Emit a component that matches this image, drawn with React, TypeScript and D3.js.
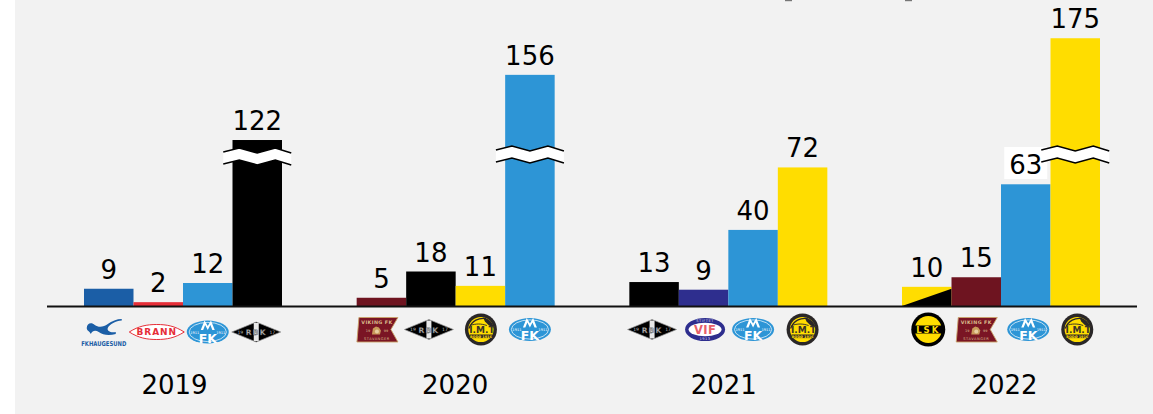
import React from "react";
import * as d3 from "d3";

const years = ["2019", "2020", "2021", "2022"];
const clubs2019 = ["haugesund", "brann", "molde", "rbk"];
const clubs2020 = ["viking", "rbk", "glimt", "molde"];
const clubs2021 = ["rbk", "vif", "molde", "glimt"];
const clubs2022 = ["lsk", "viking", "molde", "glimt"];
const values2019 = [9, 2, 12, 122];
const values2020 = [5, 18, 11, 156];
const values2021 = [13, 9, 40, 72];
const values2022 = [10, 15, 63, 175];
// Heights the broken bars are drawn at, in value units (the axis is cut for these)
const drawn2019 = [9, 2, 12, 86.6];
const drawn2020 = [4.3, 18, 10.5, 120.6];
const drawn2021 = [12.5, 8.5, 39.7, 72.3];
const drawn2022 = [10, 15, 63.5, 139.7];
const broken = [3, 3, -1, 3];

const W = 1153;
const H = 414;
const BASE = 306;
const colours: Record<string, string> = {
  haugesund: "#1b5ea6",
  brann: "#e62e38",
  molde: "#2d95d6",
  rbk: "#000000",
  viking: "#6e1420",
  glimt: "#ffdd00",
  vif: "#2e2e8e",
  lsk: "#ffdd00",
};
const FONT = "'DejaVu Sans', Verdana, sans-serif";

const groups = [
  { year: years[0], clubs: clubs2019, values: values2019, drawn: drawn2019, broken: broken[0], yearDx: -8.5, logoY: 332, breakDy: 2, logoDx: [-5, -1.5, 0, -1] },
  { year: years[1], clubs: clubs2020, values: values2020, drawn: drawn2020, broken: broken[1], yearDx: -0.5, logoY: 329.5, breakDy: 0, logoDx: [-3.5, -2, 0.5, 0] },
  { year: years[2], clubs: clubs2021, values: values2021, drawn: drawn2021, broken: broken[2], yearDx: -4.5, logoY: 329.5, breakDy: 0, logoDx: [-2, 1.5, 0, 0] },
  { year: years[3], clubs: clubs2022, values: values2022, drawn: drawn2022, broken: broken[3], yearDx: 3.5, logoY: 329.5, breakDy: 0, logoDx: [1.5, 1, 2.5, 2] },
];

const groupX = d3.scaleLinear().domain([0, 3]).range([84, 902]);
const slotX = d3.scaleBand<number>().domain([0, 1, 2, 3]).range([0, 198]);
const y = d3.scaleLinear().domain([0, 72]).range([BASE, BASE - 138]);

const waveTop = d3.line().curve(d3.curveLinear);

function Molde() {
  return (
    <g>
      <ellipse rx={21} ry={11.5} fill="#2d95d6" />
      <ellipse rx={18.6} ry={9.6} fill="none" stroke="#fff" strokeWidth={0.7} />
      <path d="M-7,-2 L-3.2,-11.5 L0,-6 L3.2,-11.5 L7,-2 L4.6,-2 L2.6,-7 L0,-2 L-2.6,-7 L-4.6,-2Z" fill="#fff" />
      <text y={10.5} textAnchor="middle" fontSize={12.5} fontWeight={700} fill="#fff" fontFamily={FONT}>FK</text>
      <text x={-13} y={1.5} textAnchor="middle" fontSize={3.6} fill="#fff" fontFamily={FONT}>1911</text>
      <text x={13} y={1.5} textAnchor="middle" fontSize={3.6} fill="#fff" fontFamily={FONT}>1911</text>
    </g>
  );
}
function Rbk() {
  return (
    <g>
      <path d="M-24.5,0 L0,-10 L24.5,0 L0,10Z" fill="#000" stroke="#999" strokeWidth={0.7} />
      <path d="M-2.5,-9 L2.5,-9 L2.5,9 L-2.5,9Z" fill="#e8e8e8" />
      <text y={3} textAnchor="middle" fontSize={7.5} fontWeight={700} fill="#bbb" stroke="#333" strokeWidth={0.3} fontFamily={FONT} letterSpacing={1.2}>RBK</text>
      <text x={-16} y={1.8} textAnchor="middle" fontSize={4.5} fill="#bbb" fontFamily={FONT}>19</text>
      <text x={16} y={1.8} textAnchor="middle" fontSize={4.5} fill="#bbb" fontFamily={FONT}>17</text>
    </g>
  );
}
function Glimt() {
  return (
    <g>
      <circle r={16} fill="#2a2728" />
      <circle r={12.6} fill="#ffdd00" />
      <path d="M-12,-1 C-9,-9 -2,-12 5,-11" fill="none" stroke="#2a2728" strokeWidth={1.2} />
      <path d="M-11,-4 C-5,-6 0,-6 6,-4" fill="none" stroke="#2a2728" strokeWidth={0.9} />
      <path d="M2,-12 C8,-11 12,-7 13,-2 L8,-4 L4,-8Z" fill="#2a2728" />
      <text x={1} y={3.5} textAnchor="middle" fontSize={9} fontWeight={700} fill="#3a3528" fontFamily={FONT}>I.M.T</text>
      <rect x={-11} y={5} width={22} height={3.6} fill="#2a2728" />
      <text y={8} textAnchor="middle" fontSize={3.4} fontWeight={700} fill="#ffdd00" fontFamily={FONT}>BODØ 1916</text>
    </g>
  );
}
function Viking() {
  return (
    <g>
      <path d="M-19,-12 L20,-12 L13,0 L20,12.5 L-21,12.5Z" fill="#7a1524" stroke="#c9a46a" strokeWidth={0.9} />
      <text x={-1} y={-5.5} textAnchor="middle" fontSize={4.8} fontWeight={700} fill="#d9b98a" fontFamily={FONT} letterSpacing={0.4}>VIKING FK</text>
      <path d="M-6,5 L-5,-1 L-2,-3 L1,-2 L3,1 L2,5Z" fill="#c99a5a" />
      <circle cx={-1} cy={2} r={2} fill="#e7cfa0" />
      <text x={-10} y={2.5} textAnchor="middle" fontSize={3.5} fill="#d9b98a" fontFamily={FONT}>19</text>
      <text x={8} y={2.5} textAnchor="middle" fontSize={3.5} fill="#d9b98a" fontFamily={FONT}>99</text>
      <text x={-1} y={10.5} textAnchor="middle" fontSize={3.6} fill="#d9b98a" fontFamily={FONT} letterSpacing={0.5}>STAVANGER</text>
    </g>
  );
}
function Vif() {
  return (
    <g>
      <ellipse rx={20} ry={11.5} fill="#2e2e8e" />
      <ellipse rx={16.5} ry={6.8} fill="#fff" />
      <text y={-7.3} textAnchor="middle" fontSize={3.6} fill="#dde" fontFamily={FONT} letterSpacing={0.5}>STIFTET</text>
      <text y={10.2} textAnchor="middle" fontSize={3.6} fill="#dde" fontFamily={FONT} letterSpacing={0.5}>1913</text>
      <text y={4.2} textAnchor="middle" fontSize={11.5} fontWeight={700} fill="#e8606a" fontFamily={FONT} letterSpacing={0.4}>VIF</text>
    </g>
  );
}
function Lsk() {
  return (
    <g>
      <circle r={17} fill="#000" />
      <circle r={13.5} fill="#ffdd00" />
      <rect x={-15} y={-4} width={30} height={8} fill="#000" />
      <text y={3.1} textAnchor="middle" fontSize={8.5} fontWeight={700} fill="#ffdd00" fontFamily={FONT} letterSpacing={2}>LSK</text>
    </g>
  );
}
function Brann() {
  return (
    <g>
      <path d="M-27.5,0 C-18,-6 -10,-7.5 0,-7.5 C10,-7.5 18,-6 27.5,0 C18,6 10,7.5 0,7.5 C-10,7.5 -18,6 -27.5,0Z" fill="#fff" stroke="#e62e38" strokeWidth={1} />
      <text y={3.4} textAnchor="middle" fontSize={9} fontWeight={700} fill="#e62e38" fontFamily={FONT} letterSpacing={0.9}>BRANN</text>
    </g>
  );
}
function Haugesund() {
  return (
    <g>
      <path d="M-17,-4 C-17,-9 -12,-10 -9,-7 C-5,-4 0,-5 4,-8 C8,-11 13,-13 18,-13 L18,-11.5 C12,-11 6,-8 4,-4 C3,-1 7,1 12,0 L12,2 C5,4 -1,3 -5,0 C-8,-2 -11,-2 -13,2 C-14,-1 -17,-1 -17,-4Z" fill="#1b5ea6" />
      <text x={0} y={13.5} textAnchor="middle" fontSize={6.6} fontWeight={700} fill="#1b5ea6" fontFamily={FONT} textLength={45} lengthAdjust="spacingAndGlyphs">FKHAUGESUND</text>
    </g>
  );
}
const logos: Record<string, () => React.ReactElement> = {
  molde: Molde, rbk: Rbk, glimt: Glimt, viking: Viking, vif: Vif, lsk: Lsk, brann: Brann, haugesund: Haugesund,
};

function Break({ cx, dy }: { cx: number; dy: number }) {
  const offs: [number, number][] = [[-34, 150], [-18, 146], [0, 151], [18, 146], [34, 151]];
  const upper = offs.map(([dx, yy]) => [cx + dx, yy + dy] as [number, number]);
  const lower = upper.map(([xx, yy]) => [xx, yy + 12] as [number, number]);
  const band = [...upper, ...[...lower].reverse()];
  return (
    <g>
      <path d={waveTop(band) + "Z"} fill="#fff" />
      <path d={waveTop(upper) || ""} fill="none" stroke="#000" strokeWidth={1.6} />
      <path d={waveTop(lower) || ""} fill="none" stroke="#000" strokeWidth={1.6} />
    </g>
  );
}

export default function App() {
  return (
    <svg width={W} height={H} style={{ position: "absolute", left: 0, top: 0, display: "block" }} fontFamily={FONT}>
      <rect width={W} height={H} fill="#fff" />
      <rect x={15} width={W - 15} height={H} fill="#f2f2f2" />
      <rect x={785} y={0} width={7} height={1.2} fill="#777" />
      <rect x={905} y={0} width={7} height={1.2} fill="#777" />
      {groups.map((g, gi) => {
        const x0 = groupX(gi);
        return (
          <g key={g.year}>
            {g.clubs.map((c, i) => {
              const bx = x0 + (slotX(i) as number);
              const bw = slotX.bandwidth();
              const top = y(g.drawn[i]);
              const cx = bx + bw / 2;
              const L = logos[c];
              return (
                <g key={c}>
                  <rect x={bx} y={top} width={bw} height={BASE - top} fill={colours[c]} />
                  {c === "lsk" && (
                    <path d={d3.line()([[bx, BASE], [bx + bw, top + 2], [bx + bw, BASE]]) + "Z"} fill="#000" />
                  )}
                  {g.year === "2022" && g.values[i] === 63 && (
                    <rect x={cx - 21.5} y={147} width={43} height={32} fill="#fff" />
                  )}
                  <g transform={`translate(${cx + g.logoDx[i]},${g.logoY})`}>
                    <L />
                  </g>
                </g>
              );
            })}
            {g.broken >= 0 && <Break cx={x0 + (slotX(g.broken) as number) + slotX.bandwidth() / 2} dy={g.breakDy} />}
            {g.clubs.map((c, i) => {
              const cx = x0 + (slotX(i) as number) + slotX.bandwidth() / 2;
              return (
                <text key={c} x={cx} y={y(g.drawn[i]) - 10} textAnchor="middle" fontSize={26} fill="#000">
                  {g.values[i]}
                </text>
              );
            })}
            <text x={x0 + 99 + g.yearDx} y={394} textAnchor="middle" fontSize={26} fill="#000">
              {g.year}
            </text>
          </g>
        );
      })}
      <line x1={47} x2={1137} y1={306.5} y2={306.5} stroke="#111" strokeWidth={2.2} />
    </svg>
  );
}
